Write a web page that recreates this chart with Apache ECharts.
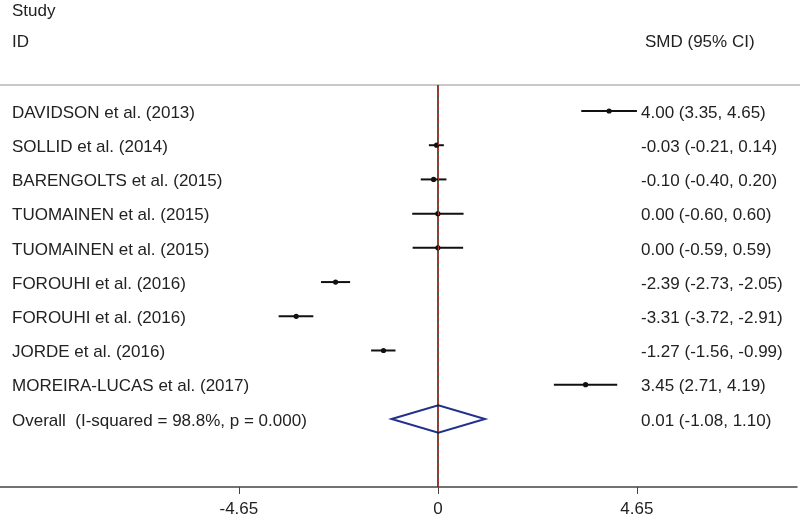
<!DOCTYPE html>
<html>
<head>
<meta charset="utf-8">
<script src="https://cdn.jsdelivr.net/npm/echarts@6/dist/echarts.min.js"></script>
<style>
  html, body { margin: 0; padding: 0; background: #fff; }
  #forest-chart { width: 800px; height: 518px; }
</style>
</head>
<body>
<div id="forest-chart"></div>
<script>
// study rows, top to bottom
const studies = [
  "DAVIDSON et al. (2013)",
  "SOLLID et al. (2014)",
  "BARENGOLTS et al. (2015)",
  "TUOMAINEN et al. (2015)",
  "TUOMAINEN et al. (2015)",
  "FOROUHI et al. (2016)",
  "FOROUHI et al. (2016)",
  "JORDE et al. (2016)",
  "MOREIRA-LUCAS et al. (2017)"
];
const smd = [4.00, -0.03, -0.10, 0.00, 0.00, -2.39, -3.31, -1.27, 3.45];
const lower = [3.35, -0.21, -0.40, -0.60, -0.59, -2.73, -3.72, -1.56, 2.71];
const upper = [4.65, 0.14, 0.20, 0.60, 0.59, -2.05, -2.91, -0.99, 4.19];
const overallLabel = "Overall  (I-squared = 98.8%, p = 0.000)";
const overallEst = 0.01;
const overallLow = -1.08;
const overallHigh = 1.10;
const xTicks = [-4.65, 0, 4.65];

const fontFamily = "Liberation Sans, Arial, sans-serif";
const textColor = "#222";
const fontSize = 17;

function ciText(e, l, u) {
  return e.toFixed(2) + " (" + l.toFixed(2) + ", " + u.toFixed(2) + ")";
}

const studyData = studies.map((name, i) => [smd[i], i, lower[i], upper[i], name]);

let myChart = echarts.init(document.getElementById("forest-chart"));
let option = {
  animation: false,
  grid: { left: 0, right: 3, top: 85, bottom: 30 },
  xAxis: {
    type: "value",
    min: -10.23,
    max: 8.39,
    splitLine: { show: false },
    axisLine: { show: true, onZero: false, lineStyle: { color: "#444", width: 1.5 } },
    axisTick: { show: true, length: 7, lineStyle: { color: "#444" }, customValues: xTicks },
    axisLabel: {
      customValues: xTicks,
      color: textColor,
      fontSize: fontSize,
      fontFamily: fontFamily,
      margin: 14,
      formatter: (v) => (v === 0 ? "0" : v.toFixed(2))
    }
  },
  yAxis: {
    type: "value",
    inverse: true,
    min: -0.76,
    max: 10.99,
    show: false
  },
  graphic: [
    { type: "text", left: 12, top: 3, style: { text: "Study", fontSize: fontSize, fontFamily: fontFamily, fill: textColor } },
    { type: "text", left: 12, top: 34, style: { text: "ID", fontSize: fontSize, fontFamily: fontFamily, fill: textColor } },
    { type: "text", left: 645, top: 34, style: { text: "SMD (95% CI)", fontSize: fontSize, fontFamily: fontFamily, fill: textColor } },
    { type: "line", shape: { x1: 0, y1: 85, x2: 800, y2: 85 }, style: { stroke: "#c8c8c8", lineWidth: 2 } }
  ],
  series: [
    {
      name: "studies",
      type: "custom",
      data: studyData,
      encode: { x: [0, 2, 3], y: 1 },
      renderItem: function (params, api) {
        const y = api.value(1);
        const p = api.coord([api.value(0), y]);
        const lo = api.coord([api.value(2), y]);
        const hi = api.coord([api.value(3), y]);
        const i = params.dataIndex;
        return {
          type: "group",
          children: [
            { type: "line", shape: { x1: lo[0], y1: lo[1], x2: hi[0], y2: hi[1] }, style: { stroke: "#111", lineWidth: 2 } },
            { type: "circle", shape: { cx: p[0], cy: p[1], r: 2.6 }, style: { fill: "#111" } },
            { type: "text", x: 12, y: p[1] + 2, style: { text: studies[i], fontSize: fontSize, fontFamily: fontFamily, fill: textColor, verticalAlign: "middle" } },
            { type: "text", x: 641, y: p[1] + 2, style: { text: ciText(smd[i], lower[i], upper[i]), fontSize: fontSize, fontFamily: fontFamily, fill: textColor, verticalAlign: "middle" } }
          ]
        };
      },
      markLine: {
        silent: true,
        symbol: "none",
        label: { show: false },
        data: [
          { xAxis: 0, lineStyle: { color: "#1a1a1a", type: "solid", width: 1.5 } },
          { xAxis: overallEst, lineStyle: { color: "#b03a2e", type: [4, 3], width: 1 } }
        ]
      }
    },
    {
      name: "overall",
      type: "custom",
      data: [[overallEst, studies.length, overallLow, overallHigh]],
      encode: { x: [0, 2, 3], y: 1 },
      renderItem: function (params, api) {
        const y = api.value(1);
        const h = 0.4;
        const top = api.coord([api.value(0), y - h]);
        const bot = api.coord([api.value(0), y + h]);
        const lo = api.coord([api.value(2), y]);
        const hi = api.coord([api.value(3), y]);
        return {
          type: "group",
          children: [
            {
              type: "polygon",
              shape: { points: [lo, top, hi, bot] },
              style: { fill: "none", stroke: "#22308a", lineWidth: 2 }
            },
            { type: "text", x: 12, y: lo[1] + 2, style: { text: overallLabel, fontSize: fontSize, fontFamily: fontFamily, fill: textColor, verticalAlign: "middle" } },
            { type: "text", x: 641, y: lo[1] + 2, style: { text: ciText(overallEst, overallLow, overallHigh), fontSize: fontSize, fontFamily: fontFamily, fill: textColor, verticalAlign: "middle" } }
          ]
        };
      }
    }
  ]
};
option && myChart.setOption(option);
</script>
</body>
</html>
